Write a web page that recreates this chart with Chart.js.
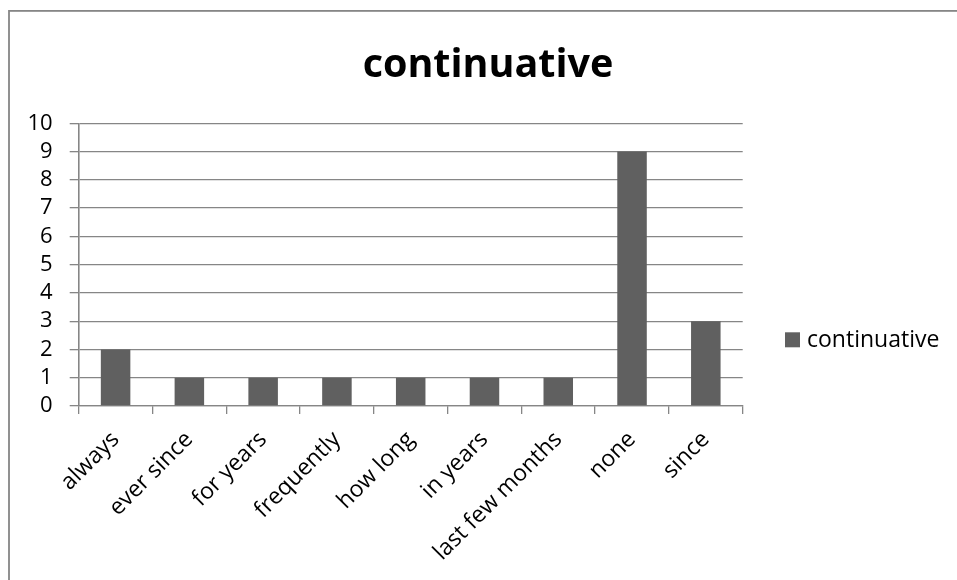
<!DOCTYPE html>
<html>
<head>
<meta charset="utf-8">
<script src="https://cdn.jsdelivr.net/npm/chart.js@4/dist/chart.umd.min.js"></script>
<style>
  html, body { margin: 0; padding: 0; background: #fff; overflow: hidden; }
  #wrap { position: relative; width: 957px; height: 580px; }
</style>
</head>
<body>
<div id="wrap"><canvas id="c" width="957" height="580"></canvas></div>
<script>
// Data
const categories = ['always', 'ever since', 'for years', 'frequently', 'how long', 'in years', 'last few months', 'none', 'since'];
const seriesName = 'continuative';
const counts = [2, 1, 1, 1, 1, 1, 1, 9, 3];
const yTickValues = [0, 1, 2, 3, 4, 5, 6, 7, 8, 9, 10];
const chartTitle = 'continuative';

const FONT = '"Open Sans", "DejaVu Sans", sans-serif';
const GRID = '#868686';
const BAR = '#606060';

// Frame, title and legend drawn around the plot
const decor = {
  id: 'decor',
  beforeDraw(chart) {
    const ctx = chart.ctx;
    ctx.save();
    ctx.fillStyle = '#fff';
    ctx.fillRect(0, 0, chart.width, chart.height);
    ctx.strokeStyle = GRID;
    ctx.lineWidth = 1.8;
    ctx.strokeRect(9, 10.9, chart.width + 40, chart.height + 40);
    ctx.restore();
  },
  afterDraw(chart) {
    const ctx = chart.ctx;
    ctx.save();
    ctx.fillStyle = '#000';
    ctx.textAlign = 'center';
    ctx.textBaseline = 'alphabetic';
    ctx.font = 'bold 39.5px ' + FONT;
    ctx.fillText(chartTitle, 488, 77);

    const ds = chart.data.datasets[0];
    ctx.fillStyle = ds.backgroundColor;
    ctx.fillRect(785, 332.3, 15, 15);
    ctx.fillStyle = '#000';
    ctx.textAlign = 'left';
    ctx.font = '23px ' + FONT;
    ctx.fillText(ds.label, 807, 347.3);
    ctx.restore();
  }
};

new Chart(document.getElementById('c'), {
  type: 'bar',
  data: {
    labels: categories,
    datasets: [{
      label: seriesName,
      data: counts,
      backgroundColor: BAR,
      borderWidth: 0,
      barPercentage: 0.4,
      categoryPercentage: 1.0
    }]
  },
  options: {
    responsive: false,
    animation: false,
    devicePixelRatio: 1,
    layout: { padding: { top: 123.3, right: 214.3, left: 0, bottom: 0 } },
    plugins: {
      legend: { display: false },
      title: { display: false },
      tooltip: { enabled: false }
    },
    scales: {
      x: {
        grid: { offset: true, drawOnChartArea: false, drawTicks: true, tickLength: 8, color: GRID, lineWidth: 1.3 },
        border: { color: GRID, width: 1.3 },
        ticks: {
          autoSkip: false,
          minRotation: 45,
          maxRotation: 45,
          color: '#000',
          font: { family: FONT, size: 23 },
          padding: 12
        },
        afterFit(scale) { scale.height = 174; }
      },
      y: {
        min: 0,
        max: 10,
        afterBuildTicks(scale) { scale.ticks = yTickValues.map(v => ({ value: v })); },
        grid: { color: GRID, lineWidth: 1.3, tickLength: 9 },
        border: { color: GRID, width: 1.6 },
        ticks: {
          autoSkip: false,
          color: '#000',
          font: { family: FONT, size: 22 },
          padding: 17
        },
        afterFit(scale) { scale.width = 78.7; }
      }
    }
  },
  plugins: [decor]
});
</script>
</body>
</html>
